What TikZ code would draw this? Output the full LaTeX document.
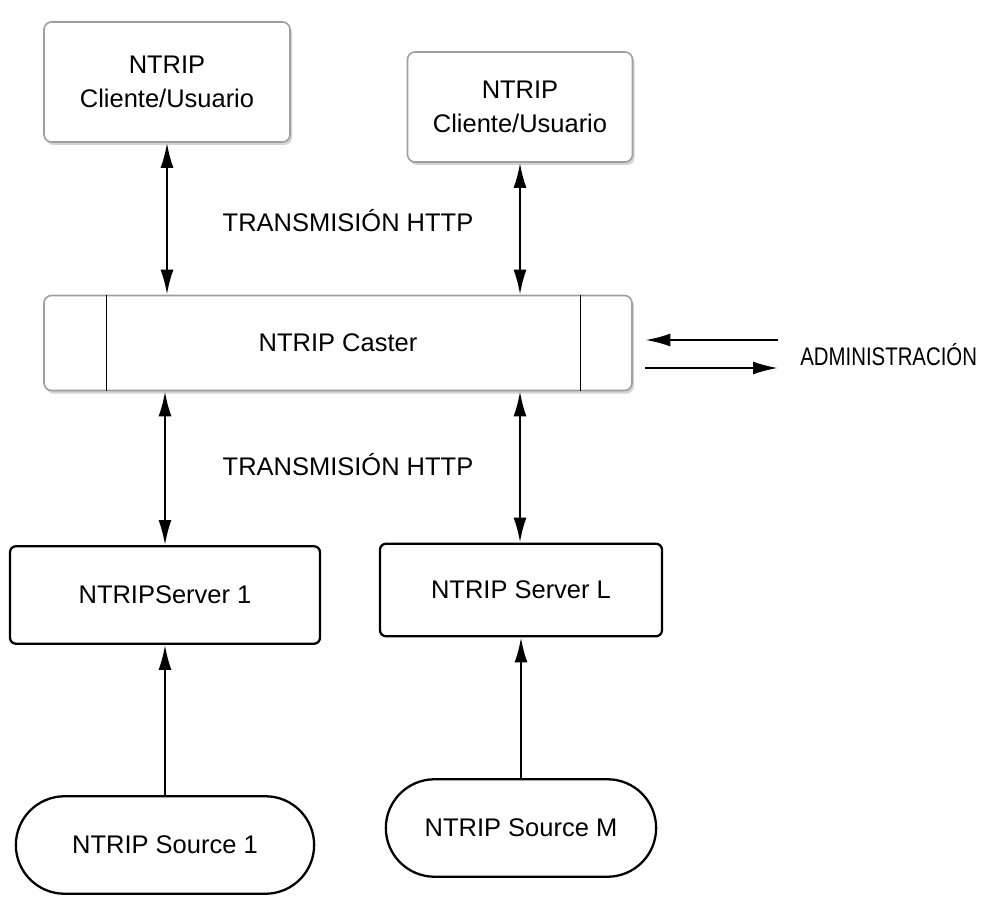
\documentclass[tikz,border=0pt]{standalone}
\usepackage{fontspec}
\setmainfont{Liberation Sans}
\usetikzlibrary{arrows.meta,shapes.misc,shadows}
\tikzset{
	lightbox/.style={draw=gray!75,line width=0.9pt,fill=white,rounded corners=1.5mm,align=center,drop shadow={opacity=0.35,shadow xshift=0.4mm,shadow yshift=-0.6mm}},
	darkbox/.style={draw=black,line width=1.3pt,fill=white,rounded corners=1.2mm,align=center},
	darksrc/.style={draw=black,line width=1.3pt,fill=white,rounded rectangle,align=center},
	link/.style={line width=1.3pt,{Latex[length=5mm,width=2.6mm]}-{Latex[length=5mm,width=2.6mm]}},
	uplink/.style={line width=1.3pt,-{Latex[length=5mm,width=2.6mm]}},
	lbl/.style={align=center,black}
}
\begin{document}
\begin{tikzpicture}[font=\fontsize{14.5}{19}\selectfont]
	\useasboundingbox (0,0) rectangle (19.94,17.94);
		\node[lightbox,minimum width=4.92cm,minimum height=2.4cm] (cli1) at (3.34,16.3) {NTRIP\\Cliente/Usuario};
		\node[lightbox,minimum width=4.5cm,minimum height=2.2cm] (cli2) at (10.4,15.8) {NTRIP\\Cliente/Usuario};
		\node[lightbox,minimum width=11.76cm,minimum height=1.9cm] (cast) at (6.76,11.08) {NTRIP Caster};
		\draw[line width=0.8pt] ([xshift=1.26cm]cast.north west) -- ([xshift=1.26cm]cast.south west);
		\draw[line width=0.8pt] ([xshift=-1.04cm]cast.north east) -- ([xshift=-1.04cm]cast.south east);
		\node[darkbox,minimum width=6.2cm,minimum height=1.95cm] (srv1) at (3.3,6.04) {NTRIPServer 1};
		\node[darkbox,minimum width=5.64cm,minimum height=1.85cm] (srvL) at (10.42,6.14) {NTRIP Server L};
		\node[darksrc,minimum width=6.2cm,minimum height=1.95cm] (src1) at (3.3,1.04) {NTRIP Source 1};
		\node[darksrc,minimum width=5.64cm,minimum height=1.95cm] (srcM) at (10.42,1.38) {NTRIP Source M};
		\node[lbl] (http1) at (6.96,13.52) {TRANSMISIÓN HTTP};
		\node[lbl] (http2) at (6.96,8.64) {TRANSMISIÓN HTTP};
		\node[lbl,anchor=west,inner sep=0pt] (admin) at (16.0,10.84) {\scalebox{0.8}[1]{ADMINISTRACIÓN}};
		\coordinate (adin) at (15.56,11.14);
		\coordinate (adout) at (15.56,10.58);
		\draw[link] (cli1.south) -- (cli1.south |- cast.north);
		\draw[link] (cli2.south) -- (cli2.south |- cast.north);
		\draw[link] (cast.south -| srv1.north) -- (srv1.north);
		\draw[link] (cast.south -| cli2.south) -- (cli2.south |- srvL.north);
		\draw[uplink] (src1.north) -- (srv1.south);
		\draw[uplink] (srcM.north) -- (srvL.south);
		\draw[uplink] (adin) -- ([xshift=0.25cm]cast.east |- adin);
		\draw[uplink] ([xshift=0.25cm]cast.east |- adout) -- (adout);
	\end{tikzpicture}
\end{document}
